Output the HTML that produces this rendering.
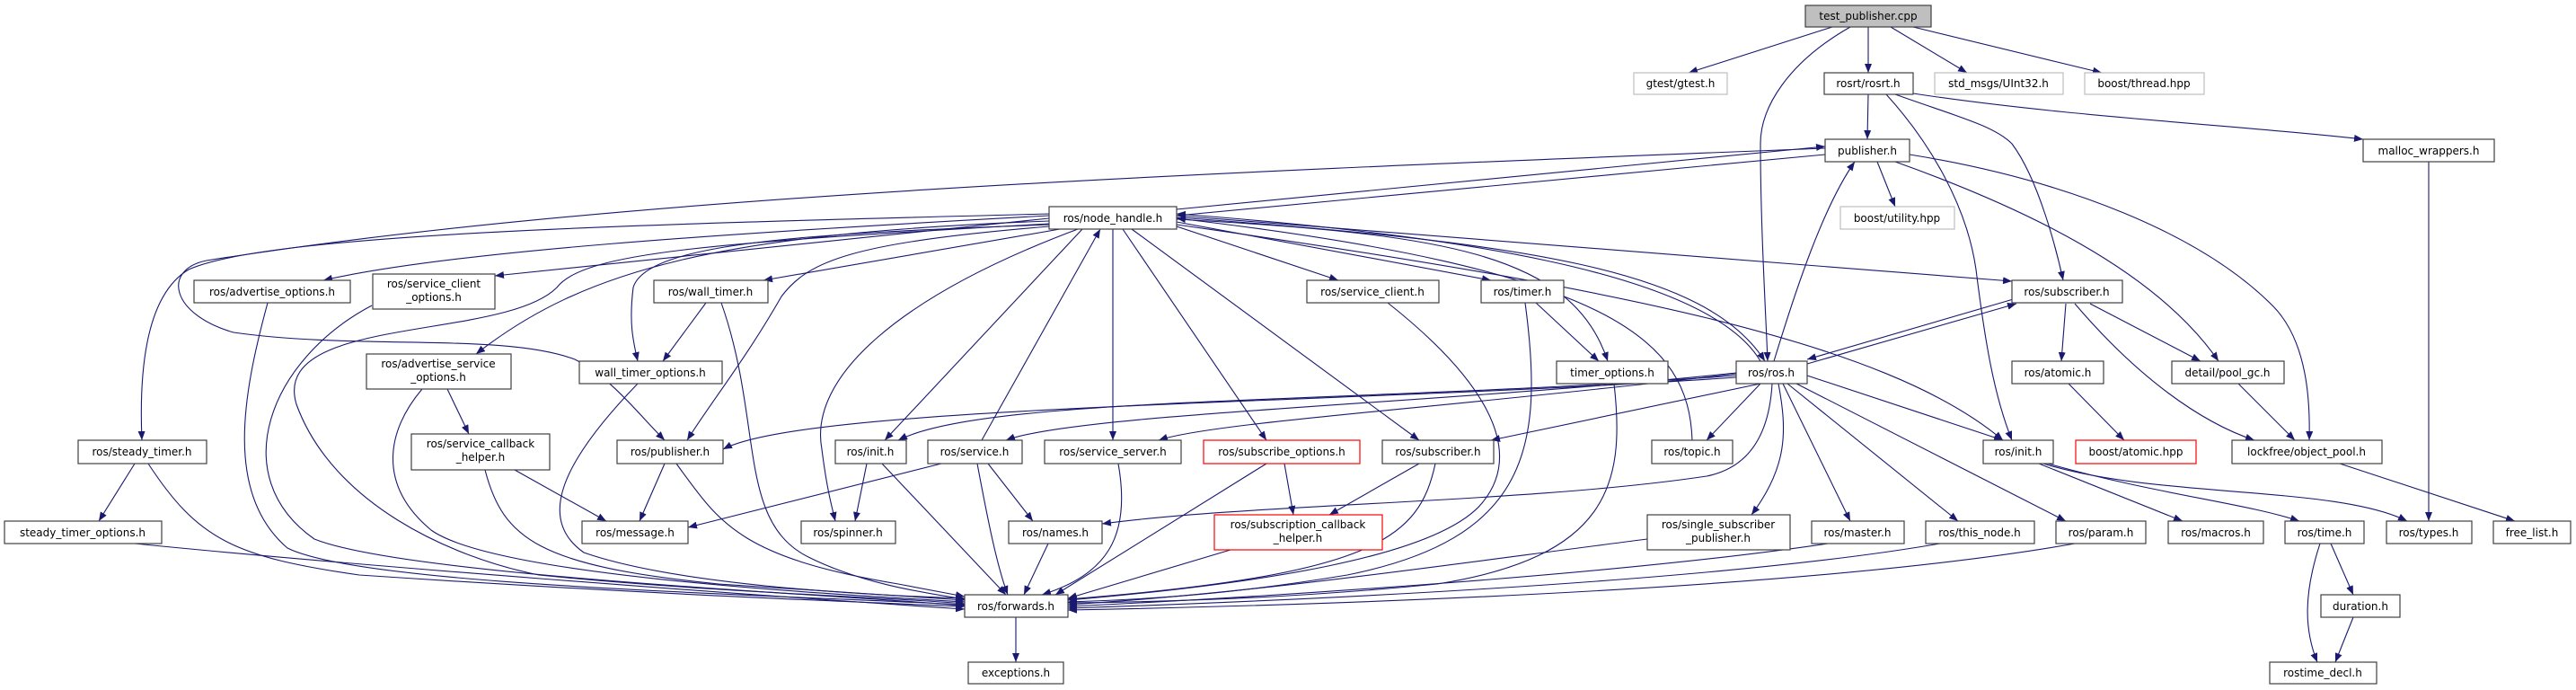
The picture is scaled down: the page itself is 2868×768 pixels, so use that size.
<!DOCTYPE html>
<html><head><meta charset="utf-8"><style>
html,body{margin:0;padding:0;background:#fff;}
svg{display:block;}
text{font-family:"DejaVu Sans","Liberation Sans",sans-serif;font-size:12px;fill:#000;}
.e{fill:none;stroke:#191970;stroke-width:1.1;marker-end:url(#a);}
.n{fill:#fff;stroke:#404040;stroke-width:1.2;}
.g{fill:#fff;stroke:#bfbfbf;stroke-width:1.2;}
.r{fill:#fff;stroke:#ff0000;stroke-width:1.2;}
</style></head><body>
<svg width="2868" height="768" viewBox="0 0 2868 768" xmlns="http://www.w3.org/2000/svg">
<defs><marker id="a" markerUnits="userSpaceOnUse" markerWidth="11" markerHeight="8" refX="10" refY="4" orient="auto"><path d="M0,0 L10,4 L0,8 z" fill="#191970"/></marker></defs>
<g>
<path class="e" d="M2040,30 L1880,81"/>
<path class="e" d="M2080,30 L2080,81"/>
<path class="e" d="M2105,30 L2190,81"/>
<path class="e" d="M2130,30 L2340,81"/>
<path class="e" d="M2060,30 C1990,70 1960,120 1960,160 C1960,250 1966,350 1968,402"/>
<path class="e" d="M2080,105 L2079,155"/>
<path class="e" d="M2130,104 C2300,130 2500,140 2631,155"/>
<path class="e" d="M2110,105 C2180,130 2220,140 2240,160 C2270,200 2290,280 2297,312"/>
<path class="e" d="M2100,105 C2150,160 2190,230 2200,300 C2210,380 2220,440 2240,490"/>
<path class="e" d="M2090,180 L2110,230"/>
<path class="e" d="M1310,233 L2032,163"/>
<path class="e" d="M2032,172 L1310,240"/>
<path class="e" d="M2110,180 C2250,230 2400,300 2470,402"/>
<path class="e" d="M2126,172 C2300,200 2450,260 2530,340 C2570,380 2572,450 2571,490"/>
<path class="e" d="M2032,165 C1400,190 700,215 230,290 C180,300 190,350 260,370 C400,390 560,370 640,400 C680,420 710,460 740,490"/>
<path class="e" d="M1168,240 C800,260 500,280 360,312"/>
<path class="e" d="M1168,243 L551,307"/>
<path class="e" d="M1168,246 C800,260 650,300 530,394"/>
<path class="e" d="M1168,238 C700,250 300,260 210,300 C160,330 155,420 158,490"/>
<path class="e" d="M1180,255 L850,312"/>
<path class="e" d="M1168,250 C900,260 720,270 705,320 C700,360 705,380 710,402"/>
<path class="e" d="M1168,252 C950,270 900,290 870,330 C830,400 790,450 765,490"/>
<path class="e" d="M1168,249 C800,270 650,280 620,320 C560,380 300,350 330,450 C370,560 500,620 600,640 C800,660 1000,665 1074,672"/>
<path class="e" d="M1205,255 L985,490"/>
<path class="e" d="M1200,255 C1000,330 900,420 915,500 C920,540 925,560 930,580"/>
<path class="e" d="M1239,255 L1239,490"/>
<path class="e" d="M1250,255 L1410,490"/>
<path class="e" d="M1260,255 L1580,490"/>
<path class="e" d="M1310,252 L1490,312"/>
<path class="e" d="M1310,247 L1660,312"/>
<path class="e" d="M1310,244 C1600,260 1750,280 1790,402"/>
<path class="e" d="M1310,242 C1700,270 1900,300 1965,402"/>
<path class="e" d="M1310,240 L2240,313"/>
<path class="e" d="M1310,250 C1800,320 2100,380 2230,490"/>
<path class="e" d="M1093,490 L1225,255"/>
<path class="e" d="M1884,490 C1880,380 1800,300 1310,243"/>
<path class="e" d="M1960,402 C1900,300 1600,260 1310,238"/>
<path class="e" d="M1975,402 C2000,320 2030,230 2065,180"/>
<path class="e" d="M2012,405 L2245,338"/>
<path class="e" d="M2245,332 L2012,400"/>
<path class="e" d="M1933,420 C1500,450 900,450 805,500"/>
<path class="e" d="M1933,418 C1500,450 1100,440 1000,490"/>
<path class="e" d="M1933,415 C1600,450 1200,460 1120,490"/>
<path class="e" d="M1933,416 C1600,455 1350,470 1290,490"/>
<path class="e" d="M1960,427 L1660,490"/>
<path class="e" d="M1960,427 L1900,490"/>
<path class="e" d="M1973,427 C1970,480 1950,520 1900,530 C1700,560 1400,560 1227,583"/>
<path class="e" d="M1980,427 C1990,480 1990,520 1950,573"/>
<path class="e" d="M1985,427 L2060,580"/>
<path class="e" d="M1990,427 L2180,580"/>
<path class="e" d="M2000,427 L2300,580"/>
<path class="e" d="M2012,418 L2230,490"/>
<path class="e" d="M2300,338 L2295,402"/>
<path class="e" d="M2327,338 L2450,402"/>
<path class="e" d="M2310,338 C2380,420 2450,470 2510,490"/>
<path class="e" d="M2303,427 L2365,490"/>
<path class="e" d="M2492,427 L2555,490"/>
<path class="e" d="M2605,516 L2800,580"/>
<path class="e" d="M2704,180 L2704,580"/>
<path class="e" d="M2270,516 L2430,580"/>
<path class="e" d="M2280,516 C2400,550 2500,560 2560,580"/>
<path class="e" d="M2275,516 C2400,555 2600,540 2680,580"/>
<path class="e" d="M2595,605 L2620,662"/>
<path class="e" d="M2583,605 C2565,660 2565,700 2580,737"/>
<path class="e" d="M2620,687 L2600,737"/>
<path class="e" d="M1131,687 L1131,737"/>
<path class="e" d="M786,337 L738,402"/>
<path class="e" d="M803,337 C850,470 820,580 900,620 C960,650 1030,660 1074,667"/>
<path class="e" d="M1710,337 L1780,402"/>
<path class="e" d="M1698,337 C1720,500 1700,600 1500,640 C1350,665 1250,668 1189,670"/>
<path class="e" d="M150,516 L110,580"/>
<path class="e" d="M165,516 C220,600 260,620 400,640 C700,660 900,668 1074,675"/>
<path class="e" d="M150,605 C400,630 800,660 1074,678"/>
<path class="e" d="M298,337 C270,440 250,550 320,610 C400,650 800,660 1074,673"/>
<path class="e" d="M414,340 C300,400 250,530 350,600 C450,640 900,660 1074,674"/>
<path class="e" d="M498,433 L522,483"/>
<path class="e" d="M470,433 C430,480 420,540 480,590 C550,640 900,660 1074,670"/>
<path class="e" d="M573,523 L675,580"/>
<path class="e" d="M540,523 C560,600 600,630 800,650 C950,660 1030,665 1074,668"/>
<path class="e" d="M710,427 C620,520 600,580 650,615 C750,650 950,662 1074,666"/>
<path class="e" d="M740,516 L712,580"/>
<path class="e" d="M753,516 C800,580 820,620 1000,650 L1074,664"/>
<path class="e" d="M965,516 L952,580"/>
<path class="e" d="M982,516 L1120,662"/>
<path class="e" d="M1048,516 L766,587"/>
<path class="e" d="M1100,516 L1150,580"/>
<path class="e" d="M1088,516 C1100,580 1110,630 1122,662"/>
<path class="e" d="M1167,605 L1140,662"/>
<path class="e" d="M1245,516 C1260,600 1230,640 1160,662"/>
<path class="e" d="M1430,516 L1440,573"/>
<path class="e" d="M1410,516 L1175,662"/>
<path class="e" d="M1580,516 L1480,573"/>
<path class="e" d="M1598,516 C1580,600 1530,640 1189,667"/>
<path class="e" d="M1370,612 L1189,666"/>
<path class="e" d="M1545,337 C1650,420 1700,500 1650,560 C1600,620 1400,650 1189,668"/>
<path class="e" d="M1797,427 C1810,540 1790,620 1600,650 C1450,665 1300,670 1189,671"/>
<path class="e" d="M1834,600 C1600,630 1400,660 1189,673"/>
<path class="e" d="M2035,605 C1800,640 1400,665 1189,675"/>
<path class="e" d="M2160,605 C1900,650 1400,670 1189,677"/>
<path class="e" d="M2310,605 C2000,660 1400,675 1189,679"/>
</g>
<g>
<rect x="2010" y="6" width="140" height="24" fill="#bfbfbf" stroke="#404040" stroke-width="1.2"/><text x="2080" y="22" text-anchor="middle">test_publisher.cpp</text>
<rect class="g" x="1819" y="81" width="104" height="24"/><text x="1871" y="97" text-anchor="middle">gtest/gtest.h</text>
<rect class="n" x="2031" y="81" width="99" height="24"/><text x="2080" y="97" text-anchor="middle">rosrt/rosrt.h</text>
<rect class="g" x="2154" y="81" width="143" height="24"/><text x="2225" y="97" text-anchor="middle">std_msgs/UInt32.h</text>
<rect class="g" x="2321" y="81" width="133" height="24"/><text x="2387" y="97" text-anchor="middle">boost/thread.hpp</text>
<rect class="n" x="2032" y="155" width="94" height="25"/><text x="2079" y="172" text-anchor="middle">publisher.h</text>
<rect class="n" x="2631" y="155" width="146" height="25"/><text x="2704" y="172" text-anchor="middle">malloc_wrappers.h</text>
<rect class="n" x="1168" y="230" width="142" height="25"/><text x="1239" y="247" text-anchor="middle">ros/node_handle.h</text>
<rect class="g" x="2049" y="230" width="127" height="25"/><text x="2112" y="247" text-anchor="middle">boost/utility.hpp</text>
<rect class="n" x="216" y="312" width="174" height="25"/><text x="303" y="329" text-anchor="middle">ros/advertise_options.h</text>
<rect class="n" x="415" y="305" width="136" height="39"/><text x="483" y="320" text-anchor="middle">ros/service_client</text><text x="483" y="335" text-anchor="middle">_options.h</text>
<rect class="n" x="728" y="312" width="127" height="25"/><text x="791" y="329" text-anchor="middle">ros/wall_timer.h</text>
<rect class="n" x="1455" y="312" width="147" height="25"/><text x="1528" y="329" text-anchor="middle">ros/service_client.h</text>
<rect class="n" x="1649" y="312" width="92" height="25"/><text x="1695" y="329" text-anchor="middle">ros/timer.h</text>
<rect class="n" x="2240" y="312" width="123" height="25"/><text x="2301" y="329" text-anchor="middle">ros/subscriber.h</text>
<rect class="n" x="645" y="402" width="159" height="25"/><text x="724" y="419" text-anchor="middle">wall_timer_options.h</text>
<rect class="n" x="408" y="394" width="161" height="39"/><text x="488" y="409" text-anchor="middle">ros/advertise_service</text><text x="488" y="424" text-anchor="middle">_options.h</text>
<rect class="n" x="1733" y="402" width="124" height="25"/><text x="1795" y="419" text-anchor="middle">timer_options.h</text>
<rect class="n" x="1933" y="402" width="79" height="25"/><text x="1972" y="419" text-anchor="middle">ros/ros.h</text>
<rect class="n" x="2240" y="402" width="102" height="25"/><text x="2291" y="419" text-anchor="middle">ros/atomic.h</text>
<rect class="n" x="2418" y="402" width="125" height="25"/><text x="2480" y="419" text-anchor="middle">detail/pool_gc.h</text>
<rect class="n" x="87" y="490" width="143" height="26"/><text x="158" y="507" text-anchor="middle">ros/steady_timer.h</text>
<rect class="n" x="458" y="483" width="154" height="40"/><text x="535" y="498" text-anchor="middle">ros/service_callback</text><text x="535" y="513" text-anchor="middle">_helper.h</text>
<rect class="n" x="687" y="490" width="118" height="26"/><text x="746" y="507" text-anchor="middle">ros/publisher.h</text>
<rect class="n" x="930" y="490" width="79" height="26"/><text x="969" y="507" text-anchor="middle">ros/init.h</text>
<rect class="n" x="1033" y="490" width="105" height="26"/><text x="1085" y="507" text-anchor="middle">ros/service.h</text>
<rect class="n" x="1163" y="490" width="152" height="26"/><text x="1239" y="507" text-anchor="middle">ros/service_server.h</text>
<rect class="r" x="1340" y="490" width="174" height="26"/><text x="1427" y="507" text-anchor="middle">ros/subscribe_options.h</text>
<rect class="n" x="1539" y="490" width="124" height="26"/><text x="1601" y="507" text-anchor="middle">ros/subscriber.h</text>
<rect class="n" x="1839" y="490" width="90" height="26"/><text x="1884" y="507" text-anchor="middle">ros/topic.h</text>
<rect class="n" x="2208" y="490" width="78" height="26"/><text x="2247" y="507" text-anchor="middle">ros/init.h</text>
<rect class="r" x="2311" y="490" width="134" height="26"/><text x="2378" y="507" text-anchor="middle">boost/atomic.hpp</text>
<rect class="n" x="2485" y="490" width="167" height="26"/><text x="2568" y="507" text-anchor="middle">lockfree/object_pool.h</text>
<rect class="n" x="5" y="580" width="175" height="25"/><text x="92" y="597" text-anchor="middle">steady_timer_options.h</text>
<rect class="n" x="648" y="580" width="118" height="25"/><text x="707" y="597" text-anchor="middle">ros/message.h</text>
<rect class="n" x="892" y="580" width="105" height="25"/><text x="944" y="597" text-anchor="middle">ros/spinner.h</text>
<rect class="n" x="1123" y="580" width="104" height="25"/><text x="1175" y="597" text-anchor="middle">ros/names.h</text>
<rect class="r" x="1352" y="573" width="187" height="39"/><text x="1445" y="588" text-anchor="middle">ros/subscription_callback</text><text x="1445" y="603" text-anchor="middle">_helper.h</text>
<rect class="n" x="1834" y="573" width="159" height="39"/><text x="1913" y="588" text-anchor="middle">ros/single_subscriber</text><text x="1913" y="603" text-anchor="middle">_publisher.h</text>
<rect class="n" x="2017" y="580" width="103" height="25"/><text x="2068" y="597" text-anchor="middle">ros/master.h</text>
<rect class="n" x="2144" y="580" width="121" height="25"/><text x="2204" y="597" text-anchor="middle">ros/this_node.h</text>
<rect class="n" x="2289" y="580" width="100" height="25"/><text x="2339" y="597" text-anchor="middle">ros/param.h</text>
<rect class="n" x="2414" y="580" width="106" height="25"/><text x="2467" y="597" text-anchor="middle">ros/macros.h</text>
<rect class="n" x="2544" y="580" width="88" height="25"/><text x="2588" y="597" text-anchor="middle">ros/time.h</text>
<rect class="n" x="2657" y="580" width="95" height="25"/><text x="2704" y="597" text-anchor="middle">ros/types.h</text>
<rect class="n" x="2776" y="580" width="86" height="25"/><text x="2819" y="597" text-anchor="middle">free_list.h</text>
<rect class="n" x="1074" y="662" width="115" height="25"/><text x="1131" y="679" text-anchor="middle">ros/forwards.h</text>
<rect class="n" x="2584" y="662" width="88" height="25"/><text x="2628" y="679" text-anchor="middle">duration.h</text>
<rect class="n" x="1078" y="737" width="106" height="24"/><text x="1131" y="753" text-anchor="middle">exceptions.h</text>
<rect class="n" x="2527" y="737" width="119" height="24"/><text x="2586" y="753" text-anchor="middle">rostime_decl.h</text>
</g>
</svg>
</body></html>
